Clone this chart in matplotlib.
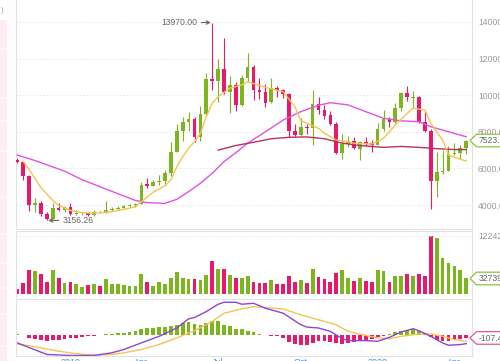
import matplotlib
matplotlib.use('Agg')
import matplotlib.pyplot as plt
import numpy as np
from matplotlib.patches import Polygon, Rectangle

plt.rcParams['font.family'] = ['Liberation Sans', 'DejaVu Sans']

# ---------------- data (weekly candles, Nov 2018 - Apr 2020) ----------------
opens = [6470, 6360, 5560, 4000, 4120, 3500, 3230, 3850, 3700, 3880,
         3500, 3540, 3580, 3440, 3620, 3600, 3720, 3800, 3860, 3940,
         3980, 4060, 5150, 5060, 5250, 5300, 5730, 6910, 8050, 8560,
         8690, 7700, 8950, 10900, 10800, 11450, 10180, 10550, 9480, 10930,
         11550, 10300, 10150, 9650, 10380, 10300, 10050, 8050, 7850, 8250,
         8200, 9520, 9200, 8900, 8450, 6830, 7330, 7480, 7050, 7470,
         7380, 7300, 8140, 8720, 8560, 9300, 10130, 9860, 9900, 8530,
         8030, 5300, 5800, 5880, 6770, 6860, 7100]
highs = [6550, 6420, 5640, 4400, 4230, 3600, 4100, 4130, 3950, 4100,
         3700, 3640, 3600, 3700, 3680, 4200, 3900, 3960, 4000, 4060,
         4100, 5250, 5470, 5380, 5650, 5900, 7450, 8400, 8800, 9100,
         8800, 9400, 11200, 13970, 12000, 13150, 11050, 10700, 11100, 12300,
         11650, 10950, 10600, 10950, 10480, 10360, 10100, 8450, 8750, 8400,
         10300, 9900, 9450, 9120, 8520, 7880, 7750, 7700, 7520, 7700,
         7550, 8460, 9200, 8800, 9600, 10150, 10500, 10250, 9960, 9190,
         8180, 6900, 6990, 7200, 7400, 7300, 7560]
lows = [6320, 5370, 3650, 3600, 3400, 3156.26, 3220, 3650, 3630, 3450,
        3470, 3460, 3380, 3400, 3560, 3580, 3680, 3740, 3840, 3880,
        3900, 4050, 4950, 5040, 5100, 5170, 5580, 6880, 7500, 8030,
        7450, 7500, 8930, 10300, 9650, 10070, 9050, 9150, 9420, 10800,
        9750, 9800, 9350, 9600, 9900, 9850, 7710, 7750, 7770, 7900,
        7300, 8950, 8700, 8350, 6780, 6500, 7180, 7080, 6450, 7200,
        6870, 7280, 8070, 8250, 8480, 9150, 9700, 9300, 8500, 8000,
        3780, 4440, 5700, 5860, 6750, 6500, 6800]
closes = [6360, 5560, 4000, 4120, 3500, 3230, 3850, 3700, 3880, 3500,
          3560, 3580, 3450, 3620, 3600, 3720, 3800, 3860, 3940, 3980,
          4060, 5090, 5060, 5250, 5300, 5730, 6910, 8050, 8560, 8690,
          7700, 8950, 10900, 10800, 11450, 10180, 10550, 9480, 10930, 11550,
          10300, 10150, 9600, 10380, 10300, 10050, 8050, 7850, 8250, 8200,
          9520, 9200, 8880, 8450, 6850, 7330, 7480, 7120, 7470, 7330,
          7260, 8140, 8720, 8560, 9300, 10130, 9900, 9900, 8530, 8030,
          5300, 5800, 5880, 6770, 6860, 7100, 7523.3]
volumes = [99000, 226000, 507000, 485000, 415000, 246000, 507000, 345000, 225000, 246000,
           204000, 155000, 190000, 211000, 176000, 310000, 204000, 204000, 190000, 169000,
           176000, 429000, 246000, 176000, 246000, 204000, 331000, 464000, 345000, 310000,
           310000, 289000, 401000, 703000, 528000, 528000, 400000, 345000, 330000, 387000,
           246000, 225000, 225000, 295000, 204000, 204000, 380000, 260000, 295000, 239000,
           521000, 366000, 310000, 260000, 436000, 507000, 345000, 274000, 345000, 274000,
           246000, 507000, 485000, 246000, 380000, 380000, 429000, 380000, 429000, 387000,
           1224222.78, 1175000, 767000, 661000, 591000, 507000, 327394.0]

# moving averages (candle index, value)
ma_fast_idx = [1, 2, 4, 6, 7, 9, 11, 13, 16, 18, 20, 21, 23, 25, 26, 27, 28, 29, 30, 31,
               32, 33, 34, 36, 38, 39, 42, 45, 47, 48, 51, 52, 54, 56, 57, 60, 62, 64, 66,
               67, 69, 70, 72, 73, 75, 76]
ma_fast_val = [6380, 5950, 4950, 4250, 3980, 3700, 3580, 3550, 3630, 3760, 3900, 4180, 4700,
               5050, 5370, 6090, 6640, 7100, 7460, 7920, 8830, 9560, 9920, 10380, 10560, 10740,
               10430, 10190, 9370, 8610, 8190, 7920, 7550, 7460, 7370, 7330, 7645, 8370, 9010,
               9285, 9190, 8465, 7550, 6730, 6500, 6405]
ma_mid_idx = [0, 3, 8, 11, 14, 17, 20, 22, 25, 27, 29, 31, 33, 35, 37, 39, 42, 45, 48, 51,
              53, 56, 59, 62, 65, 68, 70, 73, 76]
ma_mid_val = [6730, 6430, 5850, 5380, 5000, 4620, 4250, 4130, 4090, 4310, 4730, 5190, 5730,
              6370, 6860, 7380, 8000, 8640, 9100, 9450, 9590, 9470, 9100, 8740, 8600, 8550,
              8280, 8000, 7730]
ma_slow_idx = [34, 37, 40, 43, 46, 49, 52, 55, 58, 62, 65, 68, 71, 74, 76]
ma_slow_val = [7000, 7250, 7430, 7620, 7700, 7720, 7620, 7380, 7250, 7150, 7200, 7150,
               7080, 7030, 7030]

# MACD
dif_idx = [0, 5, 9, 13, 16, 18, 21, 24, 27, 29, 30, 32, 34, 35, 37, 38, 40, 42, 45, 48,
           49, 51, 53, 55, 56, 59, 61, 63, 65, 67, 68, 70, 72, 73, 75, 76]
dif_val = [-270, -650, -682, -682, -595, -488, -270, -55, 218, 520, 562, 757, 998, 1063,
           1063, 998, 1030, 868, 705, 325, 250, 218, 107, -130, -195, -195, -218, -88, 88,
           195, 130, -55, -270, -348, -325, -293]
dea_idx = [0, 4, 7, 10, 13, 16, 18, 21, 24, 27, 30, 33, 35, 38, 40, 42, 45, 48, 51, 54,
           56, 59, 61, 63, 65, 68, 70, 72, 74, 76]
dea_val = [-302, -432, -543, -627, -673, -650, -595, -488, -325, -107, 130, 432, 705, 845,
           920, 887, 845, 650, 488, 325, 107, -23, -107, -130, -55, 23, 23, -55, -163, -218]
hist = [33, 5, -107, -140, -163, -218, -185, -163, -140, -107,
        -107, -88, -55, -33, -10, 23, 33, 49, 65, 88,
        130, 185, 218, 218, 237, 237, 293, 325, 380, 413,
        348, 325, 380, 432, 432, 325, 270, 185, 185, 130,
        100, 16, -16, -33, -42, -107, -250, -302, -325, -325,
        -270, -218, -218, -237, -270, -302, -270, -250, -195, -163,
        -140, -88, -55, 16, 75, 130, 163, 185, 130, 65,
        -65, -163, -218, -195, -163, -140, -107.4]

price_ticks = [4000, 6000, 8000, 10000, 12000, 14000]
price_tick_labels = ['4000.00', '6000.00', '8000.00', '10000.00', '12000.00', '14000.00']
month_ticks = [9, 21, 34, 48, 61, 74]
month_labels = ['2019', 'Apr', 'Jul', 'Oct', '2020', 'Apr']

# ---------------- style ----------------
GREEN = '#7db51f'
RED = '#e8186c'
YELLOW = '#f6c450'
PINK = '#e052e4'
MAROON = '#b83062'
PURPLE = '#8d45d4'
GRID = '#e6e6e6'
SPINE = '#e2e2e2'
LBL = '#9a9a9a'

W, H = 500, 361
fig = plt.figure(figsize=(W / 100, H / 100), dpi=100)
fig.patch.set_facecolor('white')


def rect(left, top, right, bottom):
    return [left / W, 1 - bottom / H, (right - left) / W, (bottom - top) / H]


L, R = 16, 472
ax_p = fig.add_axes(rect(L, 0, R, 229))
ax_v = fig.add_axes(rect(L, 231, R, 297))
ax_m = fig.add_axes(rect(L, 299, R, 356))

x = np.arange(len(opens))
o = np.array(opens, float)
c = np.array(closes, float)
cols = [GREEN if cc >= oo else RED for oo, cc in zip(o, c)]
xlim = (-0.22, 76.98)

# price panel
ax_p.vlines(x, lows, highs, colors=cols, lw=0.8, zorder=2)
ax_p.bar(x, np.maximum(np.abs(c - o), 40), bottom=np.minimum(o, c), width=0.62,
         color=cols, linewidth=0, zorder=3)
ax_p.plot(ma_mid_idx, ma_mid_val, color=PINK, lw=1.0, zorder=4)
ax_p.plot(ma_slow_idx, ma_slow_val, color=MAROON, lw=1.0, zorder=4)
ax_p.plot(ma_fast_idx, ma_fast_val, color=YELLOW, lw=1.0, zorder=5)
ax_p.set_xlim(*xlim)
ax_p.set_ylim(2689, 15202)
ax_p.yaxis.tick_right()
ax_p.set_yticks(price_ticks)
ax_p.set_yticklabels(price_tick_labels)
ax_p.tick_params(axis='y', length=0, pad=4.3, labelsize=6.2, labelcolor=LBL)
ax_p.set_xticks([])
ax_p.grid(axis='y', color=GRID, ls=(0, (2, 2)), lw=0.6)
ax_p.set_axisbelow(True)

hi_i = int(np.argmax(highs))
lo_i = int(np.argmin(lows))
ax_p.annotate(f"{highs[hi_i]:.2f}", xy=(hi_i, highs[hi_i]), xytext=(-15, 0),
              textcoords='offset pixels', ha='right', va='center', fontsize=6.2,
              color='#666666',
              arrowprops=dict(arrowstyle='->', color='#666666', lw=0.8,
                              shrinkA=1, shrinkB=1))
ax_p.annotate(f"{lows[lo_i]:.2f}", xy=(lo_i, lows[lo_i]), xytext=(16, 0),
              textcoords='offset pixels', ha='left', va='center', fontsize=6.2,
              color='#666666',
              arrowprops=dict(arrowstyle='->', color='#666666', lw=0.8,
                              shrinkA=1, shrinkB=1))

# volume panel
vmax = max(volumes)
ax_v.bar(x, volumes, width=0.64, color=cols, linewidth=0)
ax_v.set_xlim(*xlim)
ax_v.set_ylim(-3 * 21107, vmax + 5 * 21107)
ax_v.yaxis.tick_right()
ax_v.set_yticks([vmax])
ax_v.set_yticklabels([f"{vmax:.2f}"])
ax_v.tick_params(axis='y', length=0, pad=4.3, labelsize=6.2, labelcolor=LBL)
ax_v.set_xticks([])
ax_v.grid(axis='y', color=GRID, ls=(0, (2, 2)), lw=0.6)

# MACD panel
hcols = [GREEN if h >= 0 else RED for h in hist]
ax_m.bar(x, hist, width=0.64, color=hcols, linewidth=0)
ax_m.plot(dea_idx, dea_val, color=YELLOW, lw=1.0)
ax_m.plot(dif_idx, dif_val, color=PURPLE, lw=1.0)
ax_m.set_xlim(*xlim)
ax_m.set_ylim(-700, 1170)
ax_m.set_yticks([])
ax_m.set_xticks(month_ticks)
ax_m.set_xticklabels(month_labels)
ax_m.tick_params(axis='x', length=0, pad=1.5, labelsize=6.5, labelcolor='#4a8fd8')

for a in (ax_p, ax_v, ax_m):
    for s in a.spines.values():
        s.set_color(SPINE)
        s.set_linewidth(0.8)
ax_p.spines['top'].set_visible(False)
ax_v.spines['bottom'].set_visible(False)

# ---------------- overlay: side strip and value tags ----------------
ov = fig.add_axes([0, 0, 1, 1])
ov.set_xlim(0, W)
ov.set_ylim(H, 0)
ov.axis('off')
ov.patch.set_alpha(0)
ov.set_zorder(10)

ov.add_patch(Rectangle((0, 20), 6.5, H - 20, color='#fdedf3', lw=0))
for gy in [48, 97, 120, 150, 196, 233, 262, 287, 313, 345]:
    ov.add_patch(Rectangle((0, gy), 6.5, 1.5, color='#fef7fa', lw=0))
ov.add_patch(Rectangle((7, 0), 8, H, color='#fcfcfc', lw=0))
ov.text(0.5, 10, ')', fontsize=6, color='#aaaaaa', va='center', ha='left')


def tag_y(ax, val):
    return H - ax.transData.transform((0, val))[1]


def tag(ypx, text, edge):
    hh = 6.3
    pts = [(470, ypx), (476.5, ypx - hh), (506, ypx - hh), (506, ypx + hh), (476.5, ypx + hh)]
    ov.add_patch(Polygon(pts, closed=True, facecolor='white', edgecolor=edge, lw=0.9))
    ov.text(479, ypx + 0.3, text, fontsize=6.2, color='#666666', va='center', ha='left')


tag(tag_y(ax_p, closes[-1]), f"{closes[-1]:.2f}", '#8cc63f')
tag(tag_y(ax_v, volumes[-1]), f"{volumes[-1]:.2f}", '#8cc63f')
tag(tag_y(ax_m, hist[-1]), f"{hist[-1]:.2f}", '#e8559a')

fig.savefig('out.png', dpi=100)
